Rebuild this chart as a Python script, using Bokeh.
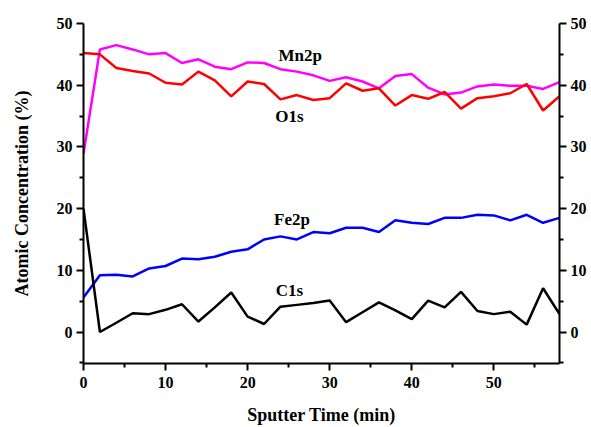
from bokeh.plotting import figure
from bokeh.models import LinearAxis, FixedTicker, Range1d
from bokeh.core.properties import value
from bokeh.embed import file_html
from bokeh.resources import INLINE

time = list(range(0, 60, 2))
mn2p = [28.9, 45.8, 46.5, 45.8, 45.0, 45.2, 43.6, 44.2, 43.0, 42.6, 43.7, 43.6, 42.6, 42.2, 41.6,
        40.7, 41.3, 40.6, 39.5, 41.5, 41.8, 39.6, 38.5, 38.8, 39.8, 40.1, 39.9, 39.9, 39.4, 40.5]
o1s = [45.2, 45.0, 42.8, 42.3, 41.9, 40.4, 40.1, 42.2, 40.8, 38.2, 40.6, 40.2, 37.7, 38.4, 37.6,
       37.9, 40.3, 39.1, 39.5, 36.7, 38.4, 37.8, 38.9, 36.2, 37.9, 38.2, 38.7, 40.2, 35.9, 38.2]
fe2p = [5.6, 9.2, 9.3, 9.0, 10.3, 10.7, 11.9, 11.8, 12.2, 13.0, 13.4, 15.0, 15.5, 15.0, 16.2,
        16.0, 16.9, 16.9, 16.2, 18.1, 17.7, 17.5, 18.5, 18.5, 19.0, 18.9, 18.1, 19.0, 17.7, 18.5]
c1s = [20.0, 0.0, 1.5, 3.05, 2.9, 3.6, 4.5, 1.7, 4.0, 6.4, 2.5, 1.3, 4.1, 4.4, 4.7,
       5.1, 1.6, 3.2, 4.8, 3.5, 2.1, 5.1, 4.0, 6.5, 3.4, 2.9, 3.3, 1.2, 7.1, 2.9]

series_names = ["Mn2p", "O1s", "Fe2p", "C1s"]
series_colors = ["#FF00FF", "#FF0000", "#0000FF", "#000000"]
label_x = [26.4, 25.1, 25.4, 25.1]
label_y = [44.8, 35.0, 18.2, 6.7]

x_ticks = [0, 10, 20, 30, 40, 50]
x_minor = [5, 15, 25, 35, 45, 55]
y_ticks = [0, 10, 20, 30, 40, 50]
y_minor = [-5, 5, 15, 25, 35, 45]

FONT = "Liberation Serif"

p = figure(width=591, height=427, output_backend="svg", toolbar_location=None,
           x_range=Range1d(0, 58), y_range=Range1d(-5.1, 50),
           min_border_left=83, min_border_right=32, min_border_top=23, min_border_bottom=62)
p.outline_line_color = None
p.xgrid.visible = False
p.ygrid.visible = False
p.background_fill_color = "white"
p.border_fill_color = "white"

for ys, c in zip([mn2p, o1s, fe2p, c1s], series_colors):
    p.line(time, ys, line_color=c, line_width=2.5)

p.text(x=label_x, y=label_y, text=series_names, text_font=value(FONT), text_font_style="bold",
       text_font_size="17px", text_align="center", text_baseline="middle", text_color="black")

def style_axis(ax, ticks, minor):
    ax.ticker = FixedTicker(ticks=ticks, minor_ticks=minor)
    ax.axis_line_width = 2
    ax.axis_line_color = "black"
    ax.major_tick_line_width = 2
    ax.minor_tick_line_width = 2
    ax.major_tick_out = 7
    ax.major_tick_in = 0
    ax.minor_tick_out = 4
    ax.minor_tick_in = 0
    ax.major_label_text_font = FONT
    ax.major_label_text_font_style = "bold"
    ax.major_label_text_font_size = "16px"
    ax.major_label_text_color = "black"
    ax.axis_label_text_font = FONT
    ax.axis_label_text_font_style = "bold"
    ax.axis_label_text_font_size = "18px"
    ax.axis_label_text_color = "black"

style_axis(p.xaxis[0], x_ticks, x_minor)
p.xaxis[0].axis_label = "Sputter Time (min)"
p.xaxis[0].major_label_standoff = 6
p.xaxis[0].axis_label_standoff = 14

style_axis(p.yaxis[0], y_ticks, y_minor)
p.yaxis[0].axis_label = "Atomic Concentration (%)"
p.yaxis[0].major_label_standoff = 4
p.yaxis[0].axis_label_standoff = 22

right = LinearAxis()
style_axis(right, y_ticks, y_minor)
right.major_label_standoff = 4
p.add_layout(right, "right")

open("out.html", "w").write(file_html(p, INLINE))
